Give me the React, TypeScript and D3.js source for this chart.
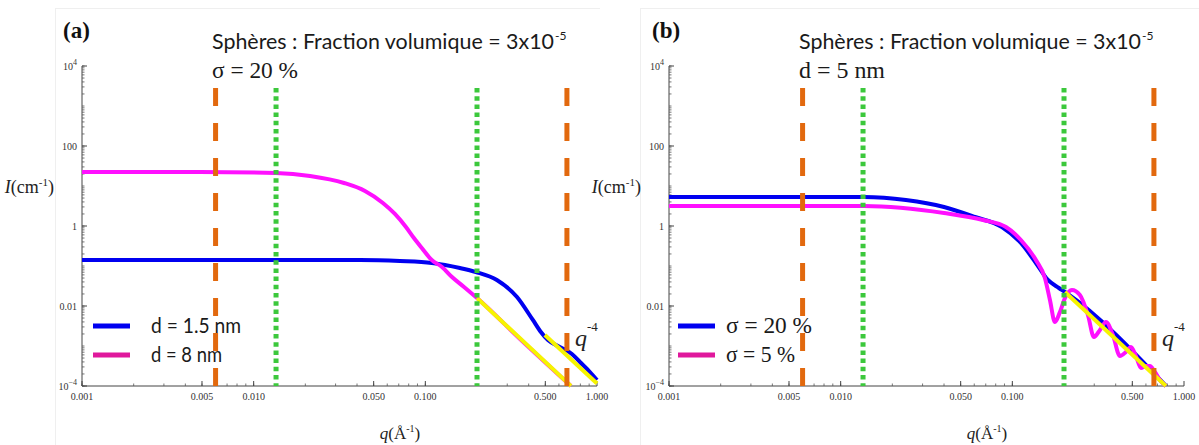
import React from "react";
import * as d3 from "d3";

// ---------- axis ticks ----------
const X_TICKS = [0.001, 0.005, 0.01, 0.05, 0.1, 0.5, 1];
const X_TICK_LABELS = ["0.001", "0.005", "0.010", "0.050", "0.100", "0.500", "1.000"];
const Y_TICKS = [1e4, 1e2, 1, 1e-2, 1e-4];
const Y_TICK_BASE = ["10", "100", "1", "0.01", "10"];
const Y_TICK_EXP = ["4", "", "", "", "−4"];

// ---------- reference lines (q values) ----------
const ORANGE_Q = [0.006, 0.668];
const GREEN_Q = [0.0135, 0.2];

// ---------- panel (a) : sigma = 20 % ----------
const A_BLUE_Q = [0.001, 0.0416, 0.0711, 0.109, 0.159, 0.197, 0.261, 0.342, 0.423, 0.471, 0.518, 0.576, 0.641, 0.714, 0.795, 0.909, 1.0];
const A_BLUE_I = [0.141, 0.141, 0.133, 0.119, 0.0891, 0.0708, 0.0447, 0.0168, 0.00447, 0.00224, 0.00141, 0.00106, 0.000841, 0.000631, 0.000398, 0.000224, 0.000141];
const A_MAG_Q = [0.001, 0.00486, 0.0135, 0.0213, 0.0336, 0.0445, 0.0566, 0.0665, 0.0771, 0.0858, 0.0943, 0.109, 0.125, 0.143, 0.168, 0.2, 0.356, 0.705];
const A_MAG_I = [22.4, 22.4, 21.1, 17.8, 11.9, 7.5, 3.76, 2.0, 0.944, 0.501, 0.299, 0.141, 0.0944, 0.0531, 0.0299, 0.0158, 0.0015, 0.0001];
const A_FIT1_Q = [0.2, 0.705];
const A_FIT1_I = [0.0158, 0.0001];
const A_FIT2_Q = [0.497, 1.0];
const A_FIT2_I = [0.00188, 0.000115];

// ---------- panel (b) : d = 5 nm ----------
const B_BLUE_Q = [0.001, 0.01367, 0.024, 0.04, 0.0606, 0.087, 0.1122, 0.1372, 0.1612, 0.1868, 0.2025, 0.785];
const B_BLUE_I = [5.31, 5.31, 4.47, 2.99, 1.68, 0.944, 0.376, 0.119, 0.0447, 0.0282, 0.0224, 0.0001];
const B_MAG_Q = [0.001, 0.01367, 0.04, 0.0675, 0.0918, 0.1122, 0.1372, 0.1548, 0.1656, 0.1771, 0.1894, 0.2025, 0.2224, 0.2475, 0.2756, 0.2988, 0.3238, 0.3509, 0.3854, 0.4233, 0.4587, 0.4906, 0.5248, 0.561, 0.6, 0.633, 0.6768, 0.7237, 0.785];
const B_MAG_I = [3.16, 3.16, 2.11, 1.41, 0.944, 0.447, 0.141, 0.0501, 0.0141, 0.00398, 0.00708, 0.0158, 0.0251, 0.0188, 0.00596, 0.00168, 0.00251, 0.00398, 0.00188, 0.000562, 0.000708, 0.000944, 0.000562, 0.000282, 0.000316, 0.000316, 0.000224, 0.000141, 0.0001];
const B_FIT_Q = [0.2025, 0.785];
const B_FIT_I = [0.0224, 0.0001];

const BLUE = "#0000f0";
const MAGENTA = "#ff10ff";
const LEGEND_MAGENTA = "#e0189c";
const YELLOW = "#f6f400";
const ORANGE = "#e2690e";
const GREEN = "#3cc83c";

const SERIF = "'Liberation Serif', 'Times New Roman', serif";
const SANS = "Lato, 'Open Sans', sans-serif";

const PLOT_W = 515;
const PLOT_TOP = 66;
const PLOT_BOTTOM = 386;
const REF_TOP = 88;

type PanelProps = {
  left: number;
  tag: string;
  tagX: number;
  line2: string;
  legend: string[];
  legendSerif: boolean;
  legendLine: [number, number];
  legendTextX: number;
  legendWidths: number[];
  blue: [number[], number[]];
  magenta: [number[], number[]];
  fits: [number[], number[]][];
};

function zip(q: number[], I: number[]): [number, number][] {
  return q.map((v, i) => [v, I[i]] as [number, number]);
}

function Panel(p: PanelProps) {
  const { left } = p;
  const x = d3.scaleLog().domain([0.001, 1]).range([left, left + PLOT_W]);
  const y = d3.scaleLog().domain([1e-4, 1e4]).range([PLOT_BOTTOM, PLOT_TOP]);
  const line = d3
    .line<[number, number]>()
    .x((d) => x(d[0]))
    .y((d) => y(d[1]))
    .curve(d3.curveMonotoneX);
  const straight = d3
    .line<[number, number]>()
    .x((d) => x(d[0]))
    .y((d) => y(d[1]));

  // minor ticks
  const xMinor: number[] = [];
  for (let k = -3; k < 0; k++) for (let m = 1; m < 10; m++) xMinor.push(m * Math.pow(10, k));
  const yMinor: number[] = [];
  for (let k = -4; k < 4; k++) for (let m = 1; m < 10; m++) yMinor.push(m * Math.pow(10, k));

  return (
    <g>
      {/* tag */}
      <text x={p.tagX} y={38} fontFamily={SERIF} fontWeight="bold" fontSize={23} fill="#111">
        {p.tag}
      </text>
      {/* title */}
      <text x={left + 130} y={49} fontFamily={SANS} fontSize={21} fill="#1a1a1a" textLength={342} lengthAdjust="spacingAndGlyphs">
        Sphères : Fraction volumique = 3x10
      </text>
      <text x={left + 473} y={40} fontFamily={SANS} fontSize={12} fill="#1a1a1a">
        -5
      </text>
      <text x={left + 130} y={78} fontFamily={SERIF} fontSize={23} fill="#1a1a1a" textLength={86} lengthAdjust="spacingAndGlyphs">
        {p.line2}
      </text>

      {/* axes */}
      <line x1={left} x2={left} y1={PLOT_TOP} y2={PLOT_BOTTOM} stroke="#444" strokeWidth={1} />
      <line x1={left} x2={left + PLOT_W} y1={PLOT_BOTTOM} y2={PLOT_BOTTOM} stroke="#444" strokeWidth={1} />
      {xMinor.map((v, i) => (
        <line key={"xm" + i} x1={x(v)} x2={x(v)} y1={PLOT_BOTTOM} y2={PLOT_BOTTOM - 2.5} stroke="#555" strokeWidth={0.8} />
      ))}
      {X_TICKS.map((v, i) => (
        <g key={"xt" + i}>
          <line x1={x(v)} x2={x(v)} y1={PLOT_BOTTOM} y2={PLOT_BOTTOM - 5} stroke="#444" strokeWidth={1} />
          <text x={x(v)} y={400} textAnchor="middle" fontFamily={SERIF} fontSize={10} fill="#333">
            {X_TICK_LABELS[i]}
          </text>
        </g>
      ))}
      {yMinor.map((v, i) => (
        <line key={"ym" + i} x1={left} x2={left + 2.5} y1={y(v)} y2={y(v)} stroke="#555" strokeWidth={0.8} />
      ))}
      <line x1={left} x2={left + 2.5} y1={y(1e4)} y2={y(1e4)} stroke="#555" strokeWidth={0.8} />
      {Y_TICKS.map((v, i) => (
        <g key={"yt" + i}>
          <line x1={left} x2={left + 5} y1={y(v)} y2={y(v)} stroke="#444" strokeWidth={1} />
          <text x={left - 5} y={y(v) + 3.5} textAnchor="end" fontFamily={SERIF} fontSize={10} fill="#333">
            <tspan>{Y_TICK_BASE[i]}</tspan>
            {Y_TICK_EXP[i] ? (
              <tspan dy={-5} fontSize={8}>
                {Y_TICK_EXP[i]}
              </tspan>
            ) : null}
          </text>
        </g>
      ))}

      {/* axis labels */}
      <text x={left - 28} y={193} textAnchor="end" fontFamily={SERIF} fontSize={18} fill="#222">
        <tspan fontStyle="italic">I</tspan>
        <tspan>(cm</tspan>
        <tspan dy={-7} fontSize={11}>-1</tspan>
        <tspan dy={7}>)</tspan>
      </text>
      <text x={left + 318} y={439} textAnchor="middle" fontFamily={SERIF} fontSize={17} fill="#222">
        <tspan fontStyle="italic">q</tspan>
        <tspan>(Å</tspan>
        <tspan dy={-7} fontSize={10}>-1</tspan>
        <tspan dy={7}>)</tspan>
      </text>

      {/* curves */}
      <path d={line(zip(p.blue[0], p.blue[1])) || ""} fill="none" stroke={BLUE} strokeWidth={4} strokeLinejoin="round" />
      <path d={line(zip(p.magenta[0], p.magenta[1])) || ""} fill="none" stroke={MAGENTA} strokeWidth={4} strokeLinejoin="round" />
      {p.fits.map((f, i) => (
        <path key={"fit" + i} d={straight(zip(f[0], f[1])) || ""} fill="none" stroke={YELLOW} strokeWidth={4} />
      ))}

      {/* reference vertical lines */}
      {ORANGE_Q.map((v, i) => (
        <line key={"or" + i} x1={x(v)} x2={x(v)} y1={REF_TOP} y2={PLOT_BOTTOM} stroke={ORANGE} strokeWidth={5} strokeDasharray="18 17" />
      ))}
      {GREEN_Q.map((v, i) => (
        <line key={"gr" + i} x1={x(v)} x2={x(v)} y1={REF_TOP} y2={PLOT_BOTTOM} stroke={GREEN} strokeWidth={5} strokeDasharray="4.5 3.7" />
      ))}

      {/* q^-4 */}
      <text x={left + 493} y={346} fontFamily={SERIF} fontSize={24} fill="#222">
        <tspan fontStyle="italic">q</tspan>
        <tspan dy={-15} fontSize={13}>-4</tspan>
      </text>

      {/* legend */}
      <line x1={p.legendLine[0]} x2={p.legendLine[1]} y1={326} y2={326} stroke={BLUE} strokeWidth={5} />
      <line x1={p.legendLine[0]} x2={p.legendLine[1]} y1={355} y2={355} stroke={LEGEND_MAGENTA} strokeWidth={5} />
      {p.legend.map((t, i) => (
        <text
          key={"lg" + i}
          x={p.legendTextX}
          y={333 + i * 29}
          fontFamily={p.legendSerif ? SERIF : SANS}
          fontSize={p.legendSerif ? 23 : 21}
          fill="#1a1a1a"
          textLength={p.legendWidths[i]}
          lengthAdjust="spacingAndGlyphs"
        >
          {t}
        </text>
      ))}
    </g>
  );
}

export default function App() {
  return (
    <div style={{ position: "absolute", left: 0, top: 0 }}>
      <svg width={1199} height={445} viewBox="0 0 1199 445" style={{ display: "block", background: "#fff" }}>
        <rect x={0} y={0} width={1199} height={445} fill="#fff" />
        {/* faint pasted-image borders */}
        <line x1={55.5} x2={55.5} y1={8} y2={445} stroke="#efefef" strokeWidth={1} />
        <line x1={55} x2={600} y1={8.5} y2={8.5} stroke="#efefef" strokeWidth={1} />
        <line x1={640.5} x2={640.5} y1={8} y2={445} stroke="#efefef" strokeWidth={1} />
        <line x1={640} x2={1199} y1={8.5} y2={8.5} stroke="#efefef" strokeWidth={1} />
        <Panel
          left={82}
          tag="(a)"
          tagX={63}
          line2="σ = 20 %"
          legend={["d = 1.5 nm", "d = 8 nm"]}
          legendSerif={false}
          legendLine={[93, 130]}
          legendTextX={151}
          legendWidths={[90, 71]}
          blue={[A_BLUE_Q, A_BLUE_I]}
          magenta={[A_MAG_Q, A_MAG_I]}
          fits={[
            [A_FIT1_Q, A_FIT1_I],
            [A_FIT2_Q, A_FIT2_I],
          ]}
        />
        <Panel
          left={669}
          tag="(b)"
          tagX={652}
          line2="d = 5 nm"
          legend={["σ = 20 %", "σ = 5 %"]}
          legendSerif={true}
          legendLine={[678, 715]}
          legendTextX={726}
          legendWidths={[86, 69]}
          blue={[B_BLUE_Q, B_BLUE_I]}
          magenta={[B_MAG_Q, B_MAG_I]}
          fits={[[B_FIT_Q, B_FIT_I]]}
        />
      </svg>
    </div>
  );
}
